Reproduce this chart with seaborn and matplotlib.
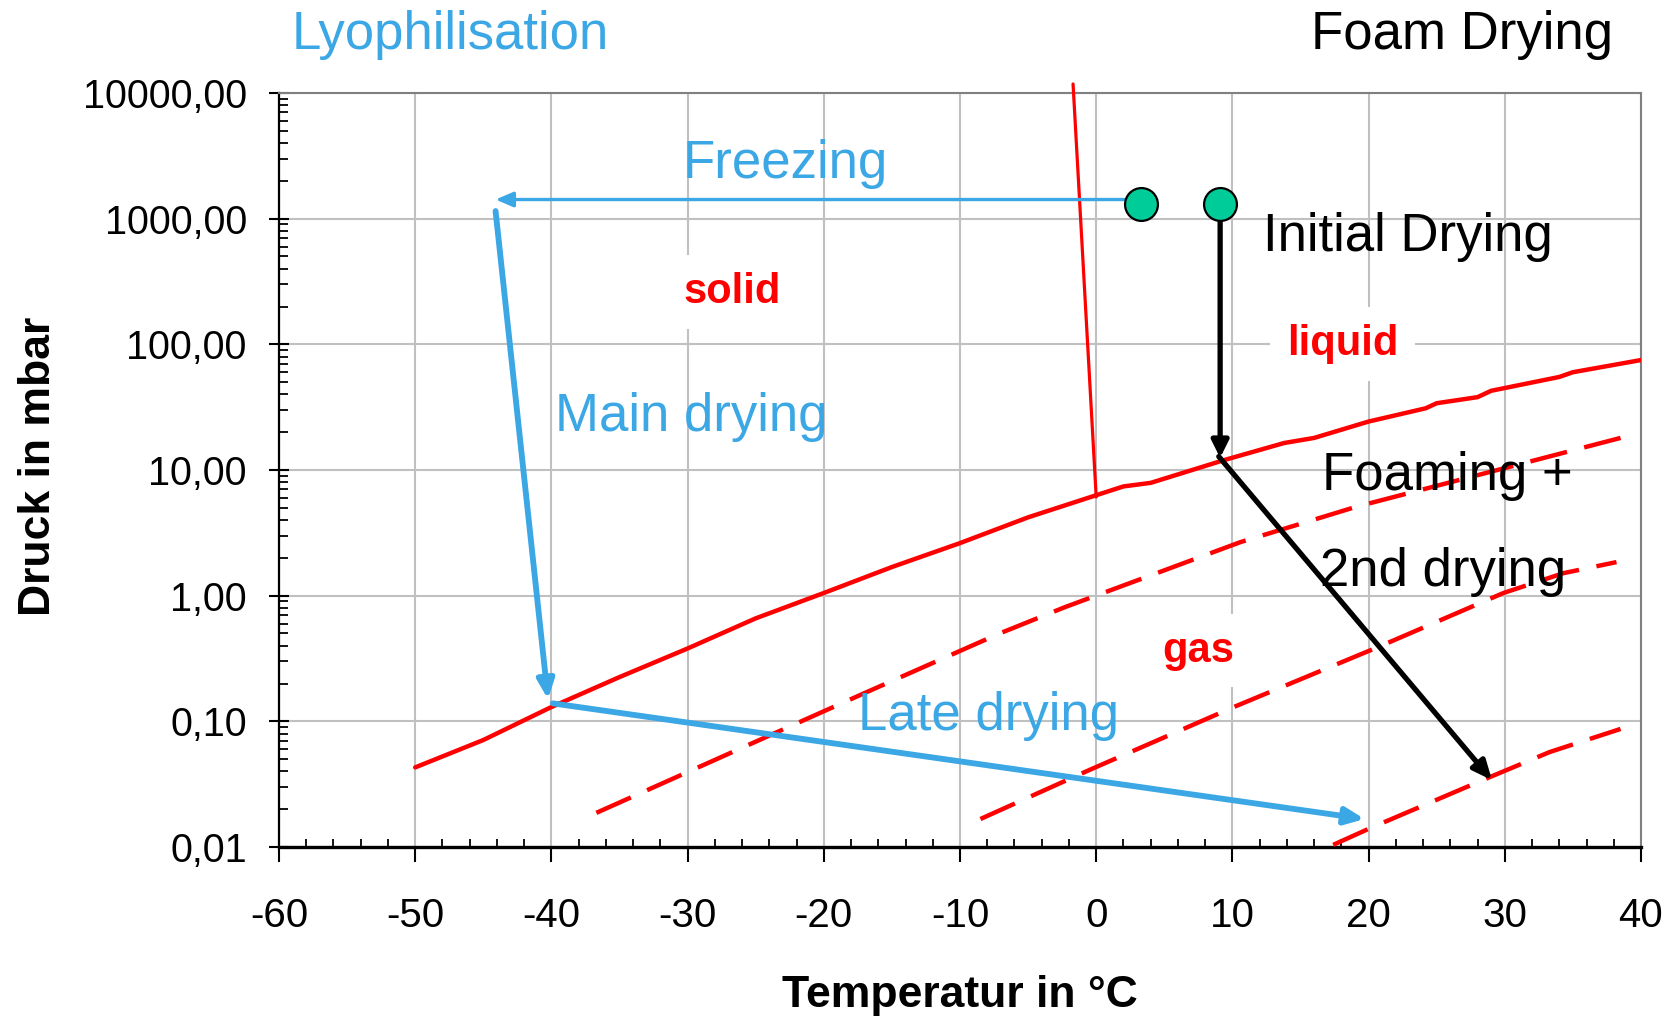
import matplotlib
matplotlib.use("Agg")
import matplotlib.pyplot as plt
from matplotlib.ticker import FixedLocator, MultipleLocator, LogLocator, NullFormatter
import seaborn as sns

# phase boundary solid/liquid - gas (solid red line)
sat_T = [-50, -45, -40, -35, -30, -25, -20, -15, -10, -5, 0, 2, 4, 9.4, 13.8, 16,
         20, 24.2, 25, 28, 29, 34, 35, 40]
sat_p = [0.043, 0.071, 0.13, 0.225, 0.38, 0.66, 1.05, 1.69, 2.62, 4.2, 6.3, 7.4, 7.9,
         12, 16.4, 18, 24.3, 31, 34, 38, 42.7, 55, 60, 75]

# melting line solid - liquid
melt_T = [0.0, -1.7]
melt_p = [6.1, 11800]

# dashed curves (lower pressure boundaries)
dash1_T = [-36.7, -17, -7.1, -2.3, 10.6, 19.1, 38.5]
dash1_p = [0.0187, 0.168, 0.5, 0.81, 2.67, 5.1, 18]
dash2_T = [-8.5, -0.5, 10.1, 20.7, 29.9, 34.3, 38.2]
dash2_p = [0.0167, 0.041, 0.13, 0.39, 1.05, 1.51, 1.85]
dash3_T = [17.4, 20.1, 28.9, 33.3, 38.5]
dash3_p = [0.0104, 0.0141, 0.036, 0.057, 0.087]

# start points
marker_T = [3.3, 9.1]
marker_p = [1300, 1300]

# process arrows: [start, end]
freezing_T = [3.3, -44.1]
freezing_p = [1420, 1420]
main_T = [-44.1, -40.25]
main_p = [1150, 0.15]
late_T = [-39.9, 19.7]
late_p = [0.139, 0.0167]
initial_T = [9.1, 9.1]
initial_p = [1300, 12.5]
foam_T = [9.0, 29.06]
foam_p = [12.8, 0.034]

x_ticks = [-60, -50, -40, -30, -20, -10, 0, 10, 20, 30, 40]
x_labels = ["-60", "-50", "-40", "-30", "-20", "-10", "0", "10", "20", "30", "40"]
y_ticks = [0.01, 0.1, 1, 10, 100, 1000, 10000]
y_labels = ["0,01", "0,10", "1,00", "10,00", "100,00", "1000,00", "10000,00"]

BLUE = "#3BA7E5"
RED = "#FF0000"
GREEN = "#00CC99"

sns.set_theme(style="white")
plt.rcParams["font.family"] = ["Liberation Sans", "DejaVu Sans"]
plt.rcParams["axes.unicode_minus"] = False
plt.rcParams["text.color"] = "black"
plt.rcParams["axes.labelcolor"] = "black"
plt.rcParams["xtick.color"] = "black"
plt.rcParams["ytick.color"] = "black"

fig = plt.figure(figsize=(16.74, 10.16), dpi=100)
ax = fig.add_axes([279 / 1674, 1 - 847 / 1016, 1362 / 1674, 754 / 1016])


def red_line(T, p, width, dashed=False, clip=True):
    sns.lineplot(x=T, y=p, ax=ax, color=RED, sort=False, estimator=None, zorder=3)
    line = ax.lines[-1]
    line.set_linewidth(width)
    line.set_clip_on(clip)
    if dashed:
        line.set_linestyle((0, (8.5, 4)))


red_line(sat_T, sat_p, 3.2)
red_line(melt_T, melt_p, 2.3, clip=False)
red_line(dash1_T, dash1_p, 3.2, dashed=True)
red_line(dash2_T, dash2_p, 3.2, dashed=True)
red_line(dash3_T, dash3_p, 3.2, dashed=True)


def arrow(T, p, color, lw, head):
    ax.annotate("", xy=(T[1], p[1]), xytext=(T[0], p[0]),
                arrowprops=dict(arrowstyle="-|>," + head, color=color, lw=lw,
                                mutation_scale=25, shrinkA=0, shrinkB=0),
                zorder=4)


arrow(freezing_T, freezing_p, BLUE, 2.4, "head_length=0.42,head_width=0.18")
arrow(main_T, main_p, BLUE, 4.2, "head_length=0.45,head_width=0.2")
arrow(late_T, late_p, BLUE, 4.2, "head_length=0.45,head_width=0.2")
arrow(initial_T, initial_p, "black", 3.8, "head_length=0.4,head_width=0.2")
arrow(foam_T, foam_p, "black", 3.8, "head_length=0.45,head_width=0.2")

sns.scatterplot(x=marker_T, y=marker_p, ax=ax, s=560, color=GREEN, edgecolor="black",
                linewidth=1.6, zorder=6, legend=False)

ax.set_yscale("log")
ax.set_xlim(-60, 40)
ax.set_ylim(0.01, 10000)
ax.xaxis.set_major_locator(FixedLocator(x_ticks))
ax.set_xticklabels(x_labels)
ax.xaxis.set_minor_locator(MultipleLocator(2))
ax.yaxis.set_major_locator(FixedLocator(y_ticks))
ax.set_yticklabels(y_labels)
ax.yaxis.set_minor_locator(LogLocator(base=10, subs=range(2, 10), numticks=20))
ax.yaxis.set_minor_formatter(NullFormatter())

ax.grid(True, which="major", color="#C0C0C0", linewidth=1.5)
ax.set_axisbelow(True)
for side in ["top", "right"]:
    ax.spines[side].set_color("#808080")
    ax.spines[side].set_linewidth(1.5)
ax.spines["left"].set_color("black")
ax.spines["left"].set_linewidth(1.6)
ax.spines["bottom"].set_color("black")
ax.spines["bottom"].set_linewidth(2.4)

ax.tick_params(axis="x", which="major", direction="out", length=10.8, width=1.5,
               color="black", labelcolor="black", labelsize=29, pad=25, bottom=True)
ax.tick_params(axis="x", which="minor", direction="in", length=5.8, width=1.3,
               color="black", bottom=True)
ax.tick_params(axis="y", which="major", direction="inout", length=14.4, width=1.5,
               color="black", labelcolor="black", labelsize=28.5, pad=16, left=True)
ax.tick_params(axis="y", which="minor", direction="in", length=6.5, width=1.3,
               color="black", left=True)

ax.set_xlabel("Temperatur in °C", fontsize=32, fontweight="bold", va="baseline",
              color="black")
ax.xaxis.set_label_coords(0.5, -0.2122)
ax.set_ylabel("Druck in mbar", fontsize=32, fontweight="bold", va="baseline",
              color="black")
ax.yaxis.set_label_coords(-0.168, 0.505)

big = 38
ax.text(-30.34, 2110, "Freezing", color=BLUE, fontsize=big, va="baseline")
ax.text(-39.74, 20.4, "Main drying", color=BLUE, fontsize=big, va="baseline")
ax.text(-17.5, 0.0853, "Late drying", color=BLUE, fontsize=big, va="baseline")
ax.text(12.25, 553, "Initial Drying", color="black", fontsize=big, va="baseline")
ax.text(16.58, 6.93, "Foaming +", color="black", fontsize=big, va="baseline", zorder=5)
ax.text(16.43, 1.2, "2nd drying", color="black", fontsize=big, va="baseline", zorder=5)

box = dict(facecolor="white", edgecolor="none", pad=12)
for T, p, s in [(-30.3, 213, "solid"), (14.0, 82, "liquid"), (4.83, 0.298, "gas")]:
    ax.text(T, p, s, color=RED, fontsize=30, fontweight="bold", va="baseline",
            bbox=box, zorder=1.5)

fig.text(291.7 / 1674, 1 - 49 / 1016, "Lyophilisation", color=BLUE, fontsize=big,
         va="baseline", ha="left")
fig.text(1613 / 1674, 1 - 49 / 1016, "Foam Drying", color="black", fontsize=big,
         va="baseline", ha="right")

fig.savefig("out.png", dpi=100, facecolor="white")
